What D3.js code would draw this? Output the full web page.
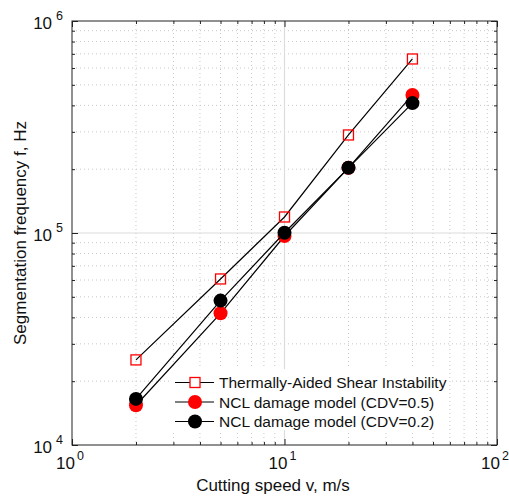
<!DOCTYPE html>
<html><head><meta charset="utf-8">
<script src="https://cdn.jsdelivr.net/npm/d3@7"></script>
<style>body{margin:0;background:#fff}svg{display:block}text{font-family:"Liberation Sans",Arial,Helvetica,sans-serif}</style>
</head><body><svg id="c" width="509" height="496"></svg>
<script>
const speeds = [2, 5, 10, 20, 40];
const thermal = [25200, 60700, 119000, 290000, 662000];
const ncl05 = [15400, 41800, 96800, 203000, 448000];
const ncl02 = [16500, 48000, 100300, 203000, 410000];
const seriesNames = ["Thermally-Aided Shear Instability", "NCL damage model (CDV=0.5)", "NCL damage model (CDV=0.2)"];
const xMajor = [1, 10, 100];
const yMajor = [1e4, 1e5, 1e6];
const xTickLabels = [["10","0"],["10","1"],["10","2"]];
const yTickLabels = [["10","4"],["10","5"],["10","6"]];
const xTitle = "Cutting speed v, m/s";
const yTitle = "Segmentation frequency f, Hz";

const L=72, R=497, T=21, B=445;
const svg = d3.select("#c");
const x = d3.scaleLog().domain([1,100]).range([L,R]);
const y = d3.scaleLog().domain([1e4,1e6]).range([B,T]);

function minors(dom){
  const out=[];
  for(let d=dom[0]; d<dom[1]; d*=10) for(let k=2;k<=9;k++) out.push(d*k);
  return out;
}
const xMinor = minors([1,100]), yMinor = minors([1e4,1e6]);

const grid = svg.append("g");
grid.selectAll(".vx").data(xMinor).join("line")
  .attr("x1",d=>x(d)).attr("x2",d=>x(d)).attr("y1",T).attr("y2",B)
  .attr("stroke","#c8c8c8").attr("stroke-width",1).attr("stroke-dasharray","1,3");
grid.selectAll(".hy").data(yMinor).join("line")
  .attr("y1",d=>y(d)).attr("y2",d=>y(d)).attr("x1",L).attr("x2",R)
  .attr("stroke","#c8c8c8").attr("stroke-width",1).attr("stroke-dasharray","1,3");
grid.selectAll(".vxm").data(xMajor.slice(1,-1)).join("line")
  .attr("x1",d=>x(d)).attr("x2",d=>x(d)).attr("y1",T).attr("y2",B)
  .attr("stroke","#dcdcdc").attr("stroke-width",1.2);
grid.selectAll(".hym").data(yMajor.slice(1,-1)).join("line")
  .attr("y1",d=>y(d)).attr("y2",d=>y(d)).attr("x1",L).attr("x2",R)
  .attr("stroke","#dcdcdc").attr("stroke-width",1.2);

function ax(gen, tr, vals, size){
  const g = svg.append("g").attr("transform",tr)
    .call(gen.tickValues(vals).tickSize(size).tickFormat(""));
  g.select(".domain").remove();
  g.selectAll(".tick line").attr("stroke","#222");
}
ax(d3.axisBottom(x), `translate(0,${B})`, xMinor, -3);
ax(d3.axisBottom(x), `translate(0,${B})`, xMajor, -6);
ax(d3.axisTop(x), `translate(0,${T})`, xMinor, -3);
ax(d3.axisTop(x), `translate(0,${T})`, xMajor, -6);
ax(d3.axisLeft(y), `translate(${L},0)`, yMinor, -3);
ax(d3.axisLeft(y), `translate(${L},0)`, yMajor, -6);
ax(d3.axisRight(y), `translate(${R},0)`, yMinor, -3);
ax(d3.axisRight(y), `translate(${R},0)`, yMajor, -6);

svg.append("rect").attr("x",L).attr("y",T).attr("width",R-L).attr("height",B-T)
  .attr("fill","none").attr("stroke","#222").attr("stroke-width",1);

xMajor.forEach((v,i)=>{
  const t = svg.append("text").attr("x",x(v)-2).attr("y",469).attr("text-anchor","middle")
    .attr("font-size",17).attr("fill","#111");
  t.append("tspan").text(xTickLabels[i][0]);
  t.append("tspan").attr("font-size",12.5).attr("dy",-9).attr("dx",2).text(xTickLabels[i][1]);
});
yMajor.forEach((v,i)=>{
  const t = svg.append("text").attr("x",63).attr("y",y(v)+8).attr("text-anchor","end")
    .attr("font-size",17).attr("fill","#111");
  t.append("tspan").text(yTickLabels[i][0]);
  t.append("tspan").attr("font-size",12.5).attr("dy",-9).attr("dx",4).text(yTickLabels[i][1]);
});

svg.append("text").attr("x",273).attr("y",491).attr("text-anchor","middle")
  .attr("font-size",17).attr("fill","#111").text(xTitle);
svg.append("text").attr("transform",`translate(26,233) rotate(-90)`).attr("text-anchor","middle")
  .attr("font-size",17).attr("fill","#111").text(yTitle);

const line = d3.line().x(d=>x(d[0])).y(d=>y(d[1]));
const series = [
  {vals: thermal, type:"square"},
  {vals: ncl05, type:"circle", color:"#ff0000"},
  {vals: ncl02, type:"circle", color:"#000000"}
];
const plot = svg.append("g");
series.forEach(s=>{
  const pts = speeds.map((v,i)=>[v,s.vals[i]]);
  plot.append("path").attr("d",line(pts)).attr("fill","none").attr("stroke","#000").attr("stroke-width",1.2);
  if(s.type==="square"){
    plot.selectAll(null).data(pts).join("rect")
      .attr("x",d=>x(d[0])-5).attr("y",d=>y(d[1])-5).attr("width",10).attr("height",10)
      .attr("fill","none").attr("stroke","#ff0000").attr("stroke-width",1.3);
  } else {
    plot.selectAll(null).data(pts).join("circle")
      .attr("cx",d=>x(d[0])).attr("cy",d=>y(d[1])).attr("r",7)
      .attr("fill",s.color);
  }
});

const lg = svg.append("g");
lg.append("rect").attr("x",170).attr("y",369).attr("width",279).attr("height",61).attr("fill","#fff");
const rowsY = [382.5, 402, 421.5];
series.forEach((s,i)=>{
  const yy = rowsY[i];
  lg.append("line").attr("x1",175).attr("x2",214).attr("y1",yy).attr("y2",yy).attr("stroke","#000").attr("stroke-width",1.2);
  if(s.type==="square"){
    lg.append("rect").attr("x",190).attr("y",yy-5).attr("width",10).attr("height",10)
      .attr("fill","#fff").attr("stroke","#ff0000").attr("stroke-width",1.3);
  } else {
    lg.append("circle").attr("cx",195).attr("cy",yy).attr("r",7).attr("fill",s.color);
  }
  lg.append("text").attr("x",219).attr("y",yy+5.5).attr("font-size",15.5).attr("fill","#111").text(seriesNames[i]);
});
</script></body></html>
